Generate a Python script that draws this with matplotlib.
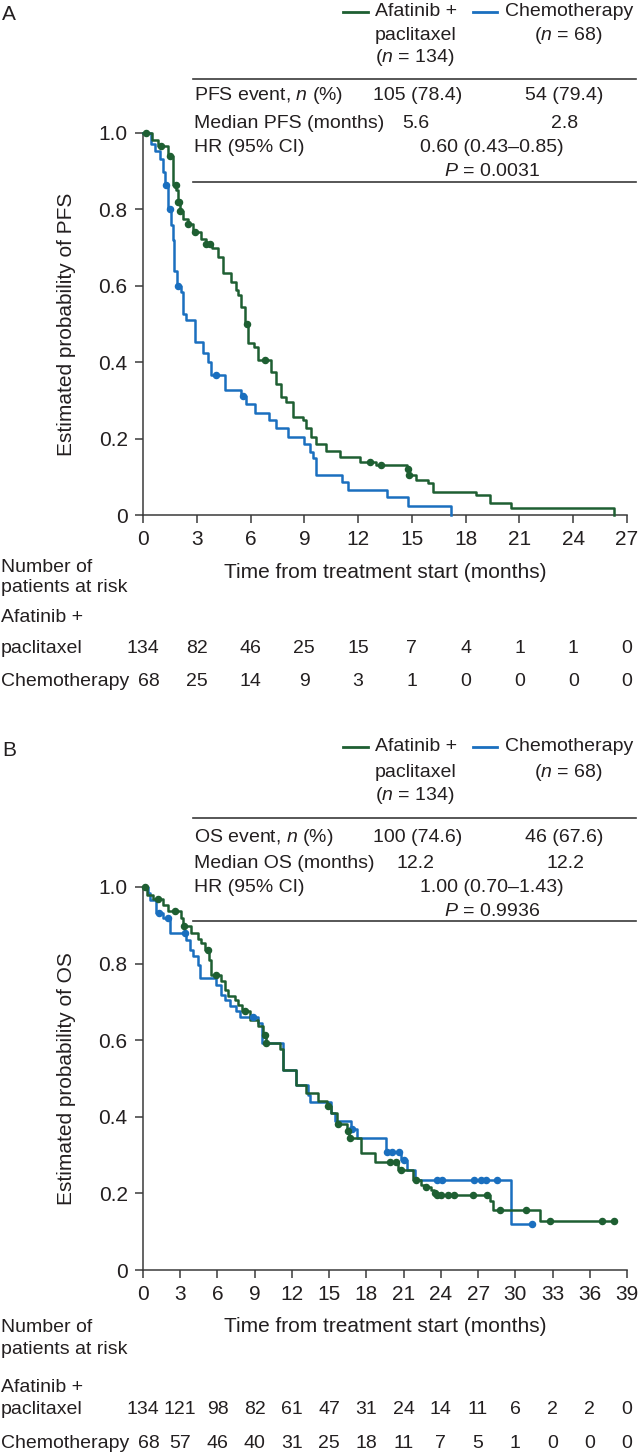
import matplotlib
matplotlib.use("Agg")
import matplotlib.pyplot as plt
from matplotlib.lines import Line2D
from matplotlib.transforms import blended_transform_factory
import numpy as np

plt.rcParams["font.family"] = ["Liberation Sans", "DejaVu Sans"]
plt.rcParams["mathtext.fontset"] = "custom"
plt.rcParams["mathtext.rm"] = "Liberation Sans"
plt.rcParams["mathtext.it"] = "Liberation Sans:italic"

GREEN = "#1e5f32"
BLUE = "#1a6fbf"
INK = "#231f20"
RULE = "#3a3a3a"

# ---- panel A: progression-free survival ----
pfs_afa_t = [0, 0.52, 0.84, 1.39, 1.67, 1.86, 1.95, 2.05, 2.23, 2.51, 2.79, 3.25, 3.53, 3.85,
             4.18, 4.46, 4.92, 5.2, 5.3, 5.48, 5.67, 5.85, 6.2, 6.4, 7.15, 7.43, 7.7, 8.0, 8.36,
             8.92, 9.1, 9.39, 9.67, 10.2, 10.97, 12.08, 13.0, 14.75, 14.82, 15.24, 15.9, 16.17,
             18.59, 19.33, 20.54, 26.3]
pfs_afa_s = [1.0, 0.981, 0.967, 0.941, 0.863, 0.85, 0.819, 0.797, 0.776, 0.762, 0.741, 0.723, 0.71, 0.70,
             0.675, 0.634, 0.61, 0.59, 0.575, 0.545, 0.50, 0.45, 0.44, 0.405, 0.375, 0.344, 0.309, 0.296, 0.257,
             0.248, 0.227, 0.205, 0.187, 0.168, 0.153, 0.139, 0.131, 0.12, 0.105, 0.092, 0.083, 0.061,
             0.052, 0.032, 0.019, 0.0]
pfs_afa_cens = [0.15, 1.02, 1.49, 1.82, 1.95, 2.0, 2.08, 2.51, 2.88, 3.53, 3.72, 5.8, 6.78,
                12.68, 13.25, 14.77, 14.85]

pfs_chemo_t = [0, 0.43, 0.69, 0.97, 1.12, 1.21, 1.40, 1.58, 1.65, 1.72, 1.9, 2.14, 2.23, 2.42, 2.88,
               3.35, 3.62, 3.81, 4.55, 5.48, 5.76, 6.23, 7.03, 7.43, 8.09, 8.96, 9.29, 9.48, 9.67,
               11.12, 11.43, 13.6, 14.78, 17.2]
pfs_chemo_s = [1.0, 0.972, 0.954, 0.932, 0.898, 0.863, 0.802, 0.76, 0.72, 0.64, 0.60, 0.584, 0.527, 0.51, 0.453,
               0.423, 0.40, 0.366, 0.327, 0.311, 0.29, 0.268, 0.25, 0.227, 0.205, 0.187, 0.166, 0.148, 0.105,
               0.087, 0.065, 0.046, 0.024, 0.0]
pfs_chemo_cens = [1.27, 1.49, 1.95, 4.05, 5.58]

pfs_ticks = [0, 3, 6, 9, 12, 15, 18, 21, 24, 27]
pfs_risk_afa = [134, 82, 46, 25, 15, 7, 4, 1, 1, 0]
pfs_risk_chemo = [68, 25, 14, 9, 3, 1, 0, 0, 0, 0]
pfs_stats = [("PFS event, $n$ (%)", "105 (78.4)", "54 (79.4)"),
             ("Median PFS (months)", "5.6", "2.8"),
             ("HR (95% CI)", "0.60 (0.43\u20130.85)"),
             ("", "$P$ = 0.0031")]

# ---- panel B: overall survival ----
os_afa_t = [0, 0.3, 0.8, 1.61, 2.02, 3.09, 3.22, 3.9, 4.43, 4.7, 4.97, 5.3, 5.5, 6.3, 6.58, 6.85,
            7.4, 7.65, 8.0, 8.6, 9.27, 9.7, 9.9, 11.0, 11.28, 12.36, 13.17, 14.1, 14.8, 15.18, 15.6,
            16.4, 16.6, 17.6, 18.7, 20.55, 21.76, 22.43, 22.8, 23.24, 23.43, 23.6, 27.94, 28.21,
            32.0, 37.95]
os_afa_s = [1.0, 0.98, 0.969, 0.954, 0.937, 0.919, 0.897, 0.88, 0.864, 0.853, 0.836, 0.81, 0.771, 0.754, 0.732, 0.715,
            0.706, 0.693, 0.675, 0.654, 0.636, 0.614, 0.593, 0.576, 0.523, 0.484, 0.463, 0.441, 0.428, 0.41, 0.38,
            0.362, 0.345, 0.306, 0.281, 0.26, 0.236, 0.223, 0.217, 0.21, 0.201, 0.195, 0.18, 0.156,
            0.127, 0.127]
os_afa_cens = [0.15, 1.21, 2.55, 3.31, 5.24, 5.86, 8.2, 9.8, 9.95, 14.9, 15.72, 16.5, 16.66, 19.88,
               20.36, 20.82, 22.03, 22.83, 23.5, 23.7, 24.04, 24.57, 25.03, 26.6, 27.72, 28.74, 30.89,
               32.83, 37.0, 37.95]

os_chemo_t = [0, 0.4, 0.6, 1.08, 1.61, 2.15, 3.44, 3.76, 4.03, 4.43, 4.57, 5.91, 6.32, 6.58, 6.99,
              7.52, 7.79, 9.27, 9.6, 11.28, 12.36, 13.3, 13.43, 15.18, 15.45, 16.75, 17.25, 19.55,
              20.82, 21.28, 21.9, 29.68, 31.37]
os_chemo_s = [1.0, 0.984, 0.965, 0.932, 0.919, 0.880, 0.862, 0.836, 0.819, 0.797, 0.762, 0.745, 0.719, 0.706, 0.688,
              0.675, 0.660, 0.645, 0.593, 0.523, 0.484, 0.458, 0.438, 0.41, 0.388, 0.367, 0.345, 0.307,
              0.286, 0.262, 0.234, 0.119, 0.119]
os_chemo_cens = [1.29, 2.02, 3.36, 8.9, 16.85, 19.66, 20.09, 20.6, 21.0, 23.69, 24.12, 26.65, 27.2,
                 27.67, 28.53, 31.37]

os_ticks = [0, 3, 6, 9, 12, 15, 18, 21, 24, 27, 30, 33, 36, 39]
os_risk_afa = [134, 121, 98, 82, 61, 47, 31, 24, 14, 11, 6, 2, 2, 0]
os_risk_chemo = [68, 57, 46, 40, 31, 25, 18, 11, 7, 5, 1, 0, 0, 0]
os_stats = [("OS event, $n$ (%)", "100 (74.6)", "46 (67.6)"),
            ("Median OS (months)", "12.2", "12.2"),
            ("HR (95% CI)", "1.00 (0.70\u20131.43)"),
            ("", "$P$ = 0.9936")]

W, H = 641, 1453
fig = plt.figure(figsize=(W / 100, H / 100), dpi=100)


def fx(x):
    return x / W


def fy(y):
    return 1 - y / H


def step_value(times, surv, t):
    i = np.searchsorted(times, t, side="right") - 1
    return surv[max(i, 0)]


def hline(x0, x1, y, **kw):
    fig.add_artist(Line2D([fx(x0), fx(x1)], [fy(y), fy(y)], transform=fig.transFigure, **kw))


def txt(x, y, s, size=14, **kw):
    fig.text(fx(x), fy(y), s, fontsize=size, color=INK, va="center", **kw)


def draw_panel(lay, curves, ticks, risk_afa, risk_chemo, stats, ylabel):
    # panel letter + legend
    txt(2, lay["leg"][0] + 3, lay["letter"], size=15)
    hline(343, 368, lay["leg"][0], color=GREEN, lw=2)
    hline(473, 497, lay["leg"][0], color=BLUE, lw=2)
    txt(375, lay["leg"][0], "Afatinib +")
    txt(375, lay["leg"][1], "paclitaxel")
    txt(375, lay["leg"][2], "($n$ = 134)")
    txt(505, lay["leg"][0], "Chemotherapy")
    txt(568, lay["leg"][1], "($n$ = 68)", ha="center")

    # stats table
    hline(193, 636, lay["line1"], color=RULE, lw=1.2)
    hline(193, 636, lay["line2"], color=RULE, lw=1.2)
    r = lay["rows"]
    txt(194, r[0], stats[0][0])
    txt(373, r[0], stats[0][1])
    txt(603, r[0], stats[0][2], ha="right")
    txt(194, r[1], stats[1][0])
    txt(416, r[1], stats[1][1], ha="center")
    txt(565, r[1], stats[1][2], ha="center")
    txt(194, r[2], stats[2][0])
    txt(492, r[2], stats[2][1], ha="center")
    txt(492, r[3], stats[3][1], ha="center")

    # KM axes
    ax = fig.add_axes([fx(143), fy(lay["bot"]), (627 - 143) / W, (lay["bot"] - lay["top"]) / H])
    for t, s, cens, col in curves:
        ax.step(t, s, where="post", color=col, lw=1.8, clip_on=False, zorder=3)
        cy = [step_value(t, s, c) for c in cens]
        ax.plot(cens, cy, "o", color=col, ms=4.4, clip_on=False, zorder=4)
    ax.set_xlim(0, ticks[-1])
    ax.set_ylim(0, 1.0)
    ax.set_xticks(ticks)
    ax.set_yticks([0, 0.2, 0.4, 0.6, 0.8, 1.0])
    ax.set_yticklabels(["0", "0.2", "0.4", "0.6", "0.8", "1.0"])
    for side in ["top", "right"]:
        ax.spines[side].set_visible(False)
    for side in ["left", "bottom"]:
        ax.spines[side].set_color(RULE)
        ax.spines[side].set_linewidth(1.1)
    ax.tick_params(direction="out", length=6, width=1.1, pad=5, labelsize=15,
                   colors=RULE, labelcolor=INK)
    ax.patch.set_alpha(0)

    txt(67, (lay["top"] + lay["bot"]) / 2, ylabel, size=15, rotation=90, ha="center")
    txt(385, lay["xlabel"], "Time from treatment start (months)", size=15, ha="center")

    # numbers at risk
    txt(1, lay["num"][0], "Number of")
    txt(1, lay["num"][1], "patients at risk")
    txt(1, lay["afa"][0], "Afatinib +")
    txt(1, lay["afa"][1], "paclitaxel")
    txt(1, lay["chemo"], "Chemotherapy")
    tr = blended_transform_factory(ax.transData, fig.transFigure)
    nudge = ticks[-1] / 484 * 6  # first chemo count sits a little right of the tick
    for k, (tk, na, nc) in enumerate(zip(ticks, risk_afa, risk_chemo)):
        fig.text(tk, fy(lay["afa"][1]), str(na), transform=tr, ha="center", va="center",
                 fontsize=14, color=INK)
        fig.text(tk + (nudge if k == 0 else 0), fy(lay["chemo"]), str(nc), transform=tr,
                 ha="center", va="center", fontsize=14, color=INK)


lay_a = dict(letter="A", leg=(12, 35, 57), line1=79, rows=(96, 123, 147, 171), line2=182,
             top=133, bot=515, xlabel=572, num=(567, 588), afa=(617, 648), chemo=682)
lay_b = dict(letter="B", leg=(747, 772, 796), line1=818, rows=(837, 863, 887, 911), line2=921,
             top=887, bot=1270, xlabel=1327, num=(1327, 1350), afa=(1387, 1410), chemo=1443)

draw_panel(lay_a,
           [(pfs_chemo_t, pfs_chemo_s, pfs_chemo_cens, BLUE),
            (pfs_afa_t, pfs_afa_s, pfs_afa_cens, GREEN)],
           pfs_ticks, pfs_risk_afa, pfs_risk_chemo, pfs_stats, "Estimated probability of PFS")
draw_panel(lay_b,
           [(os_chemo_t, os_chemo_s, os_chemo_cens, BLUE),
            (os_afa_t, os_afa_s, os_afa_cens, GREEN)],
           os_ticks, os_risk_afa, os_risk_chemo, os_stats, "Estimated probability of OS")

fig.savefig("out.png", dpi=100)
